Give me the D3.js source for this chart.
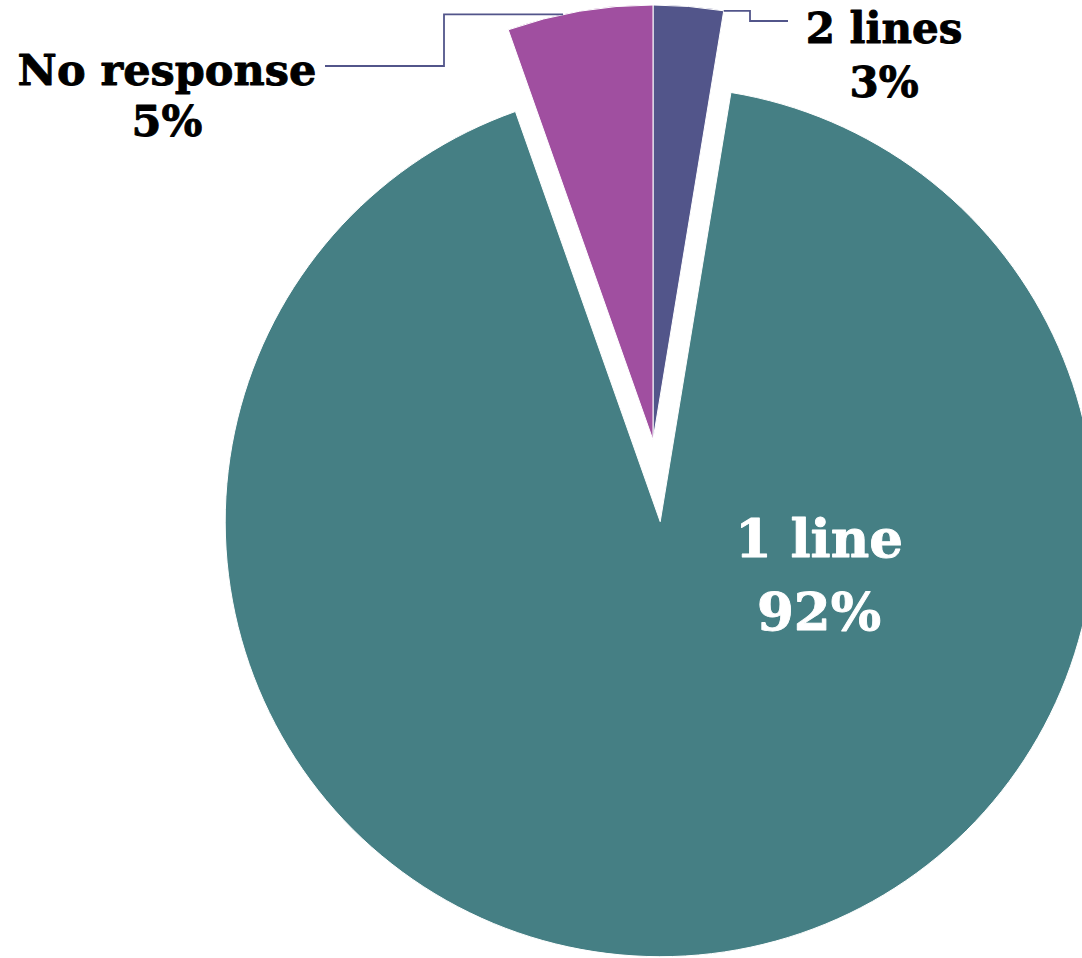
<!DOCTYPE html>
<html>
<head>
<meta charset="utf-8">
<script src="https://cdn.jsdelivr.net/npm/d3@7"></script>
<style>
  html, body { margin: 0; padding: 0; background: #ffffff; }
  svg { display: block; }
  .lbl { font-family: "DejaVu Serif", serif; font-weight: bold; }
</style>
</head>
<body>
<svg id="chart" width="1082" height="958"></svg>
<script>
// Number of lines reported — share of respondents
const categories = ["2 lines", "1 line", "No response"];
const shares = [2.6, 92.0, 5.4];
const colors = ["#52558a", "#457f84", "#a04fa0"];
const exploded = [false, true, false];

const W = 1082, H = 958;
const cx = 653, cy = 440, R = 435, explodeDist = 82;

const svg = d3.select("#chart");

const data = categories.map((c, i) => ({ name: c, value: shares[i], color: colors[i], explode: exploded[i] }));

const pie = d3.pie().sort(null).value(d => d.value);
const arcs = pie(data);
const arc = d3.arc().innerRadius(0).outerRadius(R);

const pct = v => Math.round(v) + "%";

function offsetOf(a) {
  if (!a.data.explode) return [0, 0];
  const mid = (a.startAngle + a.endAngle) / 2;
  return [Math.sin(mid) * explodeDist, -Math.cos(mid) * explodeDist];
}

const g = svg.append("g").attr("transform", `translate(${cx},${cy})`);

g.selectAll("path.slice")
  .data(arcs)
  .join("path")
  .attr("class", "slice")
  .attr("transform", d => { const o = offsetOf(d); return `translate(${o[0]},${o[1]})`; })
  .attr("d", arc)
  .attr("fill", d => d.data.color)
  .attr("stroke", "#ffffff")
  .attr("stroke-width", 1);

// point on the outer edge of a slice, at a fraction of its angular span
function edgePoint(a, frac) {
  const ang = a.startAngle + (a.endAngle - a.startAngle) * frac;
  const o = offsetOf(a);
  return [cx + o[0] + Math.sin(ang) * R, cy + o[1] - Math.cos(ang) * R];
}

// two-line label (name, percentage), drawn a little heavier
function label(x, y1, y2, size, fill, a) {
  const t = svg.append("text").attr("class", "lbl").attr("text-anchor", "middle")
    .attr("font-size", size).attr("fill", fill)
    .attr("stroke", fill).attr("stroke-width", 0.9).attr("stroke-linejoin", "round");
  t.append("tspan").attr("x", x).attr("y", y1).text(a.data.name);
  t.append("tspan").attr("x", x).attr("y", y2).text(pct(a.data.value));
}

const leaderColor = "#52558a";

// 2 lines: outside label, upper right
const aTwo = arcs[0];
const pTwo = edgePoint(aTwo, 1.0);
svg.append("path")
  .attr("d", d3.line()([pTwo, [750, pTwo[1]], [750, 21], [788, 21]]))
  .attr("fill", "none").attr("stroke", leaderColor).attr("stroke-width", 1.8);
label(884, 43, 97, 42, "#000", aTwo);

// No response: outside label, upper left
const aNo = arcs[2];
const pNo = edgePoint(aNo, 0.386);
svg.append("path")
  .attr("d", d3.line()([pNo, [444, pNo[1]], [444, 66], [325, 66]]))
  .attr("fill", "none").attr("stroke", leaderColor).attr("stroke-width", 1.8);
label(167, 85, 136, 43, "#000", aNo);

// 1 line: label inside the slice
const aOne = arcs[1];
label(819, 557, 630, 53, "#ffffff", aOne);
</script>
</body>
</html>
